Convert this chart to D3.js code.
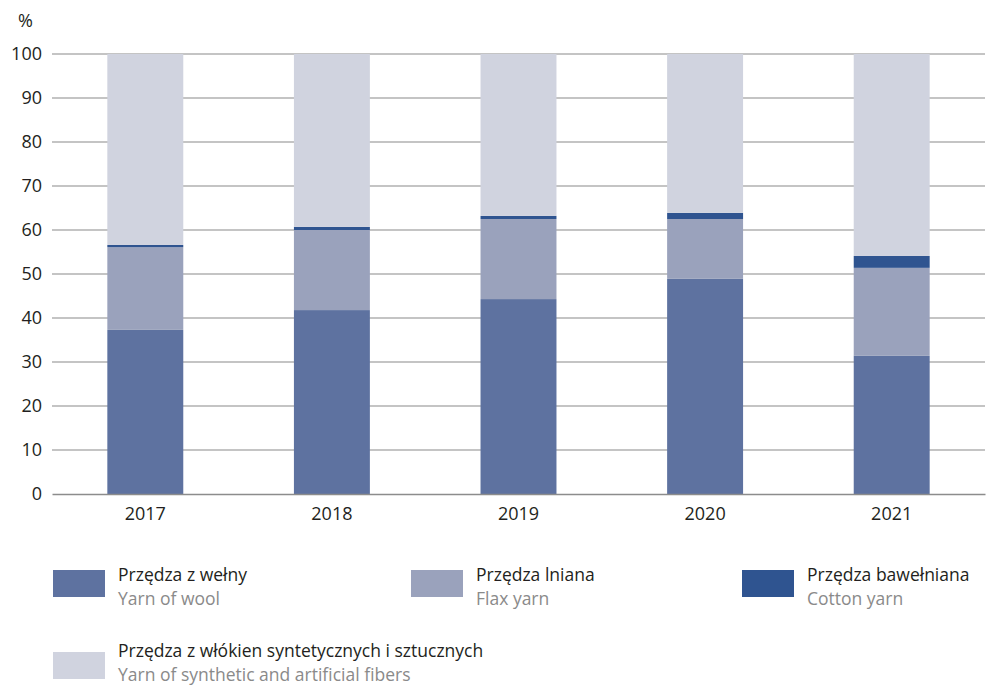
<!DOCTYPE html>
<html><head><meta charset="utf-8">
<script src="https://cdn.jsdelivr.net/npm/d3@7"></script>
<style>body{margin:0;background:#fff;} svg{display:block;font-family:"Open Sans",sans-serif;}</style>
</head><body><svg id="c" width="990" height="687"></svg>
<script>
const years = ["2017","2018","2019","2020","2021"];
const wool = [37.3, 41.8, 44.3, 48.9, 31.4];
const flax = [18.8, 18.2, 18.2, 13.6, 20.0];
const cotton = [0.5, 0.7, 0.7, 1.4, 2.7];
const synthetic = [43.4, 39.3, 36.8, 36.1, 45.9];
const yTicks = [0,10,20,30,40,50,60,70,80,90,100];
const seriesKeys = ["wool","flax","cotton","synthetic"];
const seriesPl = ["Przędza z wełny","Przędza lniana","Przędza bawełniana","Przędza  z włókien syntetycznych i sztucznych"];
const seriesEn = ["Yarn of wool","Flax yarn","Cotton yarn","Yarn of synthetic and artificial fibers"];
const colors = ["#5e72a0","#9aa2bc","#2f5490","#d0d3df"];

const rows = years.map((y,i)=>({year:y, wool:wool[i], flax:flax[i], cotton:cotton[i], synthetic:synthetic[i]}));
const stack = d3.stack().keys(seriesKeys)(rows);

const svg = d3.select("#c");
const x = d3.scaleBand().domain(years).range([52,985]).paddingInner(0.593).paddingOuter(0.2965);
const y = d3.scaleLinear().domain([0,100]).range([494,54]);

// gridlines
svg.append("g").selectAll("line").data(yTicks.filter(d=>d>0)).join("line")
  .attr("x1",52).attr("x2",985).attr("y1",d=>y(d)).attr("y2",d=>y(d))
  .attr("stroke","#b1b1b1").attr("stroke-width",1.5);

// bars
svg.append("g").selectAll("g").data(stack).join("g")
  .attr("fill",(d,i)=>colors[i])
  .selectAll("rect").data(d=>d).join("rect")
  .attr("x",d=>x(d.data.year)).attr("width",x.bandwidth())
  .attr("y",d=>y(d[1])).attr("height",d=>y(d[0])-y(d[1]));

// baseline axis
const xAxis = svg.append("g").attr("transform","translate(0,494)")
  .call(d3.axisBottom(x).tickSize(0).tickPadding(13));
xAxis.select(".domain").attr("stroke","#8c8c8c").attr("stroke-width",1.5);
xAxis.selectAll("text").attr("font-size",18).attr("fill","#231f20").attr("font-family","Open Sans, sans-serif");

// y axis labels
const yAxis = svg.append("g").attr("transform","translate(52,0)")
  .call(d3.axisLeft(y).tickValues(yTicks).tickSize(0).tickPadding(10));
yAxis.select(".domain").remove();
yAxis.selectAll("text").attr("font-size",18).attr("fill","#231f20").attr("font-family","Open Sans, sans-serif");

svg.append("text").attr("x",18).attr("y",27).attr("font-size",18).attr("fill","#231f20").text("%");

// legend
const legPos = [[53,570,581],[411,570,581],[742,570,581],[53,652,657]];
const leg = svg.append("g").selectAll("g").data(seriesKeys).join("g")
  .attr("transform",(d,i)=>`translate(${legPos[i][0]},0)`);
leg.append("rect").attr("y",(d,i)=>legPos[i][1]).attr("width",52).attr("height",27).attr("fill",(d,i)=>colors[i]);
leg.append("text").attr("x",65).attr("y",(d,i)=>legPos[i][2]).attr("font-size",17.5).attr("fill","#231f20").text((d,i)=>seriesPl[i]);
leg.append("text").attr("x",65).attr("y",(d,i)=>legPos[i][2]+24).attr("font-size",17.5).attr("fill","#8a8a8a").text((d,i)=>seriesEn[i]);
</script></body></html>
